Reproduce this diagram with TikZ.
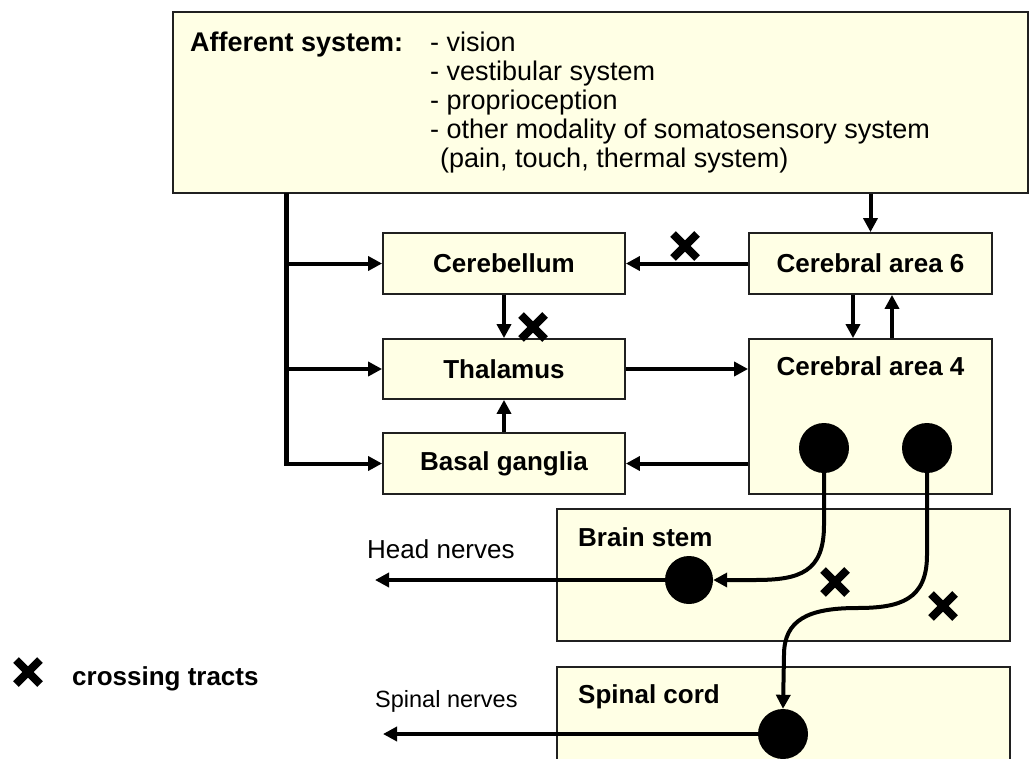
\documentclass[tikz,border=0pt]{standalone}
\usepackage{fontspec}
\setmainfont{Liberation Sans}
\usetikzlibrary{arrows.meta}

\definecolor{boxfill}{RGB}{255,255,229}
\definecolor{boxline}{RGB}{32,32,32}

\newcommand\lab{\fontsize{26pt}{30pt}\selectfont\bfseries}
\newcommand\plain{\fontsize{26pt}{30pt}\selectfont}
\newcommand\listfont{\fontsize{27pt}{30pt}\selectfont}

\tikzset{
  box/.style={draw=boxline, fill=boxfill, line width=1.8pt, rectangle,
              inner sep=0pt, font=\lab},
  txt/.style={inner sep=0pt, anchor=base west},
  arr/.style={line width=4pt, -{Triangle[length=14pt,width=14pt]}},
  bus/.style={line width=5pt},
  dot/.style={circle, fill=black, inner sep=0pt},
  crossx/.pic={\draw[line width=8pt] (-12,-12) -- (12,12) (-12,12) -- (12,-12);}
}

\begin{document}
\begin{tikzpicture}[x=1pt, y=-1pt]
\useasboundingbox (0,0) rectangle (1031,758);
\fill[white] (0,0) rectangle (1031,758);

% afferent input box with its list
\node[box, minimum width=855pt, minimum height=181pt] (aff) at (600.5,102.5) {};
\node[txt, font=\listfont\bfseries] (afft) at (190,51) {Afferent system:};
\node[txt, font=\listfont] (l1) at (430,51)  {- vision};
\node[txt, font=\listfont] (l2) at (430,80)  {- vestibular system};
\node[txt, font=\listfont] (l3) at (430,109) {- proprioception};
\node[txt, font=\listfont] (l4) at (430,138) {- other modality of somatosensory system};
\node[txt, font=\listfont] (l5) at (440,167) {(pain, touch, thermal system)};

% central boxes
\node[box, minimum width=242pt, minimum height=61pt] (cereb) at (504,263.5) {Cerebellum};
\node[box, minimum width=242pt, minimum height=60pt] (thal)  at (504,369)   {Thalamus};
\node[box, minimum width=242pt, minimum height=61pt] (basal) at (504,463.5) {Basal ganglia};
\node[box, minimum width=243pt, minimum height=61pt] (a6)    at (870.5,263.5) {Cerebral area 6};
\node[box, minimum width=243pt, minimum height=155pt] (a4)   at (870.5,416.5) {};
\node[inner sep=0pt, font=\lab, anchor=base] (a4t) at (870.5,375) {Cerebral area 4};

% brain stem and spinal cord
\node[box, minimum width=453pt, minimum height=132pt] (bs) at (783.5,575) {};
\node[txt, font=\lab] (bst) at (578,546) {Brain stem};
\node[box, minimum width=453pt, minimum height=140pt] (sc) at (783.5,737) {};
\node[txt, font=\lab] (sct) at (578,703) {Spinal cord};

% side labels
\node[txt, font=\plain] (hnt) at (367,558) {Head nerves};
\node[txt, font=\fontsize{23.5pt}{28pt}\selectfont] (snt) at (375,707) {Spinal nerves};

% feeder bus from the afferent box
\coordinate (bt) at (286,193);
\coordinate (bb) at (286,465.5);
\draw[bus] (bt) -- (bb);
\draw[arr] (bt |- cereb.west) -- (cereb.west);
\draw[arr] (bt |- thal.west) -- (thal.west);
\draw[arr] (bt |- basal.west) -- (basal.west);

% connections between the boxes
\draw[arr] (a6.north |- aff.south) -- (a6.north);
\draw[arr] (a6.west) -- (cereb.east);
\draw[arr] (cereb.south) -- (thal.north);
\draw[arr] (basal.north) -- (thal.south);
\draw[arr] (thal.east) -- (a4.west |- thal.east);
\draw[arr] (a4.west |- basal.east) -- (basal.east);
\draw[arr] ([xshift=-17.5pt]a6.south) -- ([xshift=-17.5pt]a4.north);
\draw[arr] ([xshift=21.5pt]a4.north) -- ([xshift=21.5pt]a6.south);

% motor neurons and their tracts
\node[dot, minimum size=50pt] (d1) at (824,448) {};
\node[dot, minimum size=50pt] (d2) at (927,448) {};
\node[dot, minimum size=48pt] (bd) at (689,580) {};
\node[dot, minimum size=50pt] (sd) at (783,734) {};

\draw[arr] (d1.south) -- (824,525) .. controls (824,572) and (800,580) .. (755,580) -- (bd.east);
\draw[arr] (d2.south) -- (927,555) .. controls (927,600) and (900,608) .. (857,608)
           .. controls (808,608) and (784,620) .. (784,655) -- (sd.north);

\coordinate (hn) at (375,580);
\coordinate (sn) at (383,734);
\draw[arr] (bd.west) -- (hn);
\draw[arr] (sd.west) -- (sn);

% crossing marks
\pic at (685,246) {crossx};
\pic at (533,327) {crossx};
\pic at (835,582) {crossx};
\pic at (943,606) {crossx};

% legend
\pic at (28,672) {crossx};
\node[txt, font=\lab] (leg) at (72,685) {crossing tracts};
\end{tikzpicture}
\end{document}
